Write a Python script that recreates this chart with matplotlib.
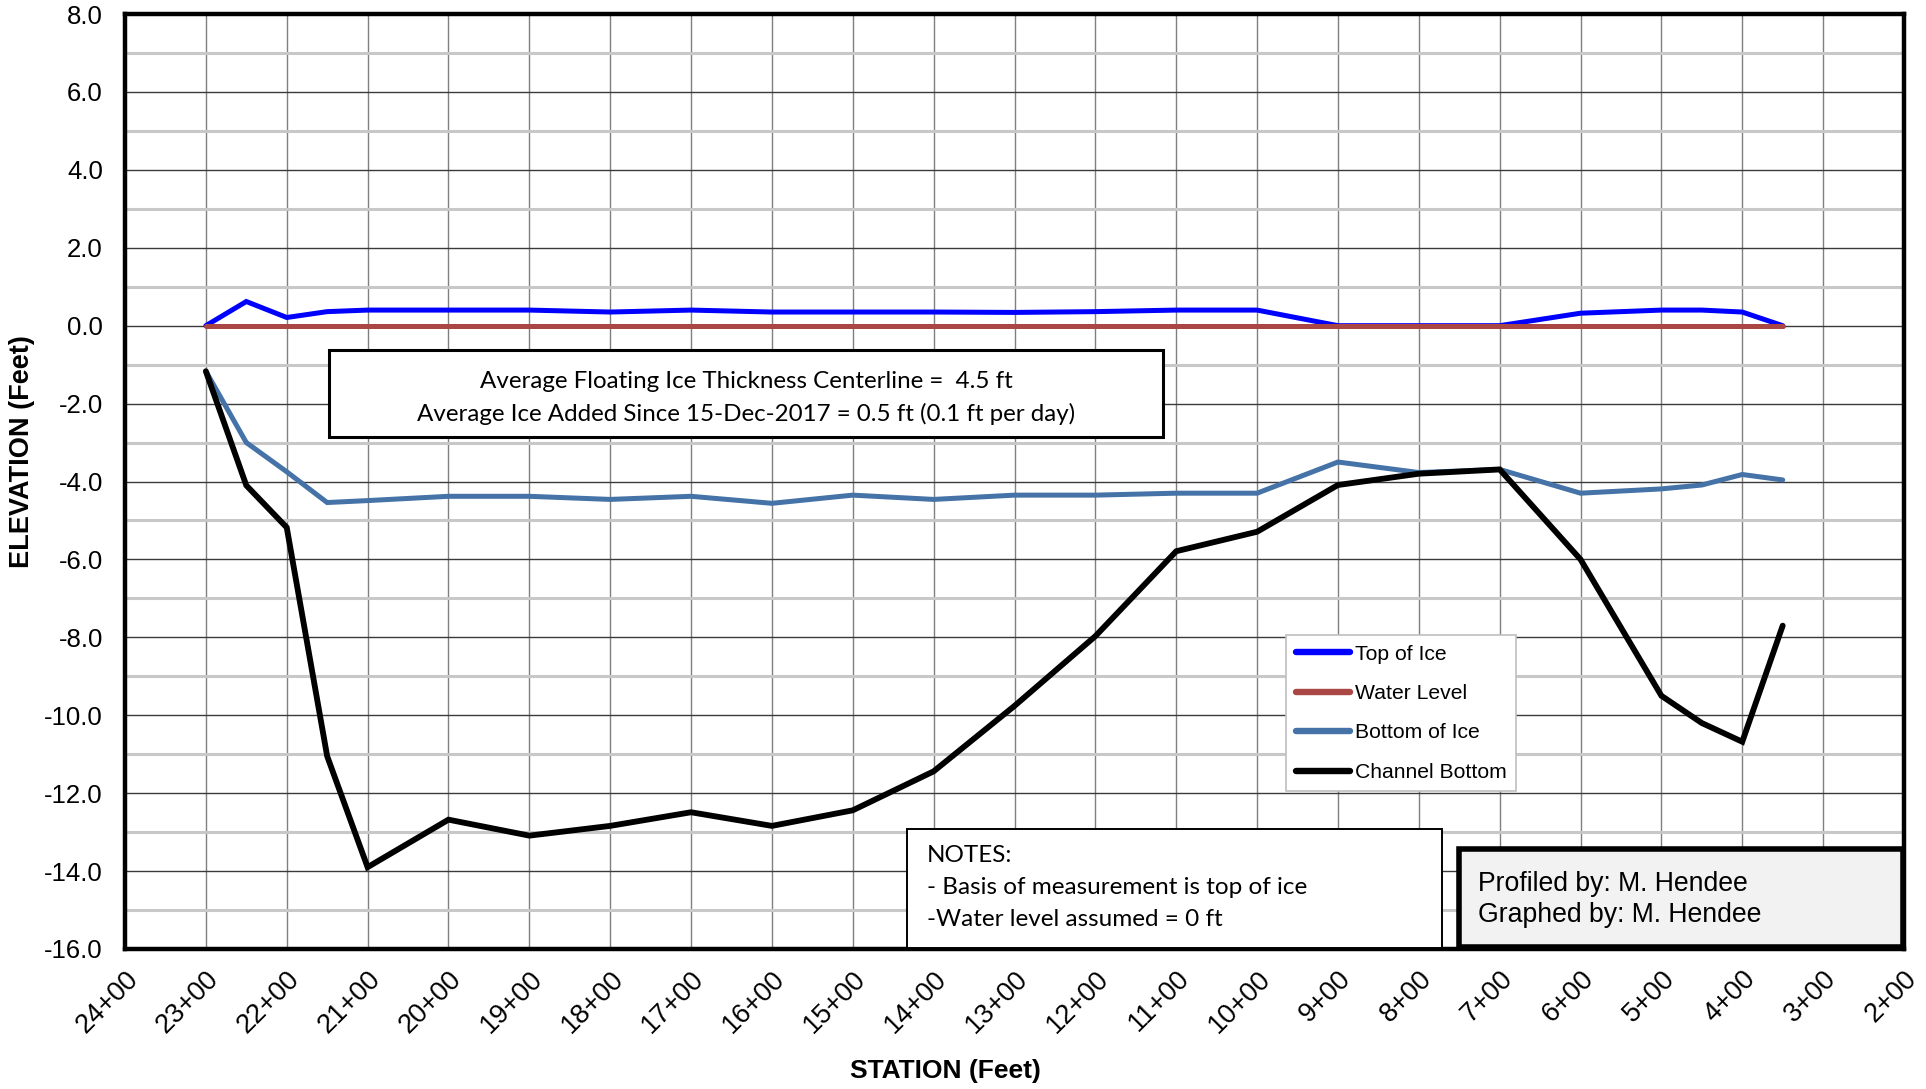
import matplotlib
matplotlib.use("Agg")
import matplotlib.pyplot as plt
from matplotlib.ticker import FixedLocator, FuncFormatter
from matplotlib.patches import Rectangle

# Survey stations (feet) and elevations (feet) along the centerline profile
stations = [2300, 2250, 2200, 2150, 2100, 2000, 1900, 1800, 1700, 1600, 1500, 1400,
            1300, 1200, 1100, 1000, 900, 800, 700, 600, 500, 450, 400, 350]
top_of_ice = [0.0, 0.62, 0.21, 0.36, 0.40, 0.40, 0.40, 0.35, 0.40, 0.35, 0.35, 0.35,
              0.34, 0.36, 0.40, 0.40, 0.0, 0.0, 0.0, 0.32, 0.40, 0.40, 0.35, 0.0]
water_level = [0.0] * len(stations)
bottom_of_ice = [-1.17, -3.0, -3.75, -4.54, -4.49, -4.38, -4.38, -4.46, -4.38, -4.56, -4.35, -4.46,
                 -4.35, -4.35, -4.30, -4.30, -3.50, -3.77, -3.69, -4.30, -4.19, -4.09, -3.82, -3.96]
channel_bottom = [-1.17, -4.10, -5.18, -11.05, -13.90, -12.68, -13.09, -12.84, -12.49, -12.84, -12.44, -11.44,
                  -9.76, -7.97, -5.79, -5.29, -4.09, -3.80, -3.69, -6.00, -9.50, -10.20, -10.68, -7.70]

x_ticks = list(range(2400, 100, -100))
y_major = [v * 2.0 for v in range(-8, 5)]
y_minor = [v * 2.0 + 1.0 for v in range(-8, 4)]

W, H = 1926, 1089
fig = plt.figure(figsize=(W / 100, H / 100), dpi=100)
fig.patch.set_facecolor("white")

left, right, top, bottom = 125, 1904, 14, 949
ax = fig.add_axes([left / W, 1 - bottom / H, (right - left) / W, (bottom - top) / H])

sans = ["Liberation Sans", "DejaVu Sans"]
body = ["Lato", "DejaVu Sans"]

ax.set_xlim(2400, 200)
ax.set_ylim(-16, 8)

# Grid: dark lines for stations and even elevations, light gray for odd elevations
for xv in x_ticks:
    ax.axvline(xv, color="#7f7f7f", lw=1.0, zorder=1)
for yv in y_major:
    ax.axhline(yv, color="#3a3a3a", lw=1.0, zorder=1)
for yv in y_minor:
    ax.axhline(yv, color="#c8c8c8", lw=2.2, zorder=1)

line_kw = dict(solid_capstyle="round", solid_joinstyle="miter")
ax.plot(stations, top_of_ice, color="#0000ff", lw=3.6, label="Top of Ice", zorder=3, **line_kw)
ax.plot(stations, water_level, color="#aa4643", lw=3.6, label="Water Level", zorder=3, **line_kw)
ax.plot(stations, bottom_of_ice, color="#4572a7", lw=3.6, label="Bottom of Ice", zorder=3, **line_kw)
ax.plot(stations, channel_bottom, color="#000000", lw=4.2, label="Channel Bottom", zorder=4, **line_kw)

ax.xaxis.set_major_locator(FixedLocator(x_ticks))
ax.xaxis.set_major_formatter(FuncFormatter(lambda v, p: f"{int(round(v)) // 100}+00"))
ax.yaxis.set_major_locator(FixedLocator(y_major))
ax.yaxis.set_major_formatter(FuncFormatter(lambda v, p: f"{v:.1f}"))
ax.tick_params(axis="both", length=0)
ax.tick_params(axis="y", pad=16)
ax.tick_params(axis="x", pad=12)
for lab in ax.get_yticklabels():
    lab.set_fontfamily(sans)
    lab.set_fontsize(18.5)
for lab in ax.get_xticklabels():
    lab.set_fontfamily(sans)
    lab.set_fontsize(19.5)
    lab.set_rotation(45)
    lab.set_ha("right")
    lab.set_va("top")
    lab.set_rotation_mode("anchor")

for s in ax.spines.values():
    s.set_linewidth(3.2)
    s.set_color("black")
    s.set_zorder(10)

fig.text(22 / W, 1 - 452 / H, "ELEVATION (Feet)", rotation=90, ha="center", va="center",
         fontsize=19.5, fontweight="bold", family=sans)
fig.text(945 / W, 1 - 1071 / H, "STATION (Feet)", ha="center", va="center",
         fontsize=19, fontweight="bold", family=sans)

def fig_box(x0, y0, x1, y1, lw, face="white", edge="black", z=6):
    r = Rectangle((x0 / W, 1 - y1 / H), (x1 - x0) / W, (y1 - y0) / H,
                  transform=fig.transFigure, facecolor=face, edgecolor=edge,
                  linewidth=lw, zorder=z)
    fig.add_artist(r)

# Summary box
fig_box(329, 350, 1163, 437, 2.2)
fig.text((329 + 1163) / 2 / W, 1 - 381 / H,
         "Average Floating Ice Thickness Centerline =  4.5 ft",
         ha="center", va="center", fontsize=17.4, family=body, zorder=7)
fig.text((329 + 1163) / 2 / W, 1 - 414 / H,
         "Average Ice Added Since 15-Dec-2017 = 0.5 ft (0.1 ft per day)",
         ha="center", va="center", fontsize=17.4, family=body, zorder=7)

# Notes box
fig_box(907, 829, 1442, 948, 1.4)
for yy, t in [(856, "NOTES:"), (888, "- Basis of measurement is top of ice"),
              (920, "-Water level assumed = 0 ft")]:
    fig.text(927 / W, 1 - yy / H, t, ha="left", va="center", fontsize=17.5,
             family=body, zorder=7)

# Credits box
fig_box(1459, 849, 1903, 947, 4.0, face="#f2f2f2")
fig.text(1478 / W, 1 - 884 / H, "Profiled by: M. Hendee", ha="left", va="center",
         fontsize=19.2, family=sans, zorder=7)
fig.text(1478 / W, 1 - 915 / H, "Graphed by: M. Hendee", ha="left", va="center",
         fontsize=19.2, family=sans, zorder=7)

leg = ax.legend(loc="upper left", bbox_to_anchor=(1286 / W, 1 - 635 / H),
                bbox_transform=fig.transFigure, frameon=True, fancybox=False,
                framealpha=1, edgecolor="#bfbfbf", handlelength=2.6, handletextpad=0.2,
                labelspacing=0.97, borderpad=0.45, borderaxespad=0,
                prop={"family": sans, "size": 15.2})
leg.get_frame().set_linewidth(1.2)
leg.set_zorder(8)
for h in leg.get_lines():
    h.set_linewidth(4.6)
    h.set_solid_capstyle("round")

fig.savefig("out.png", dpi=100, facecolor="white")
